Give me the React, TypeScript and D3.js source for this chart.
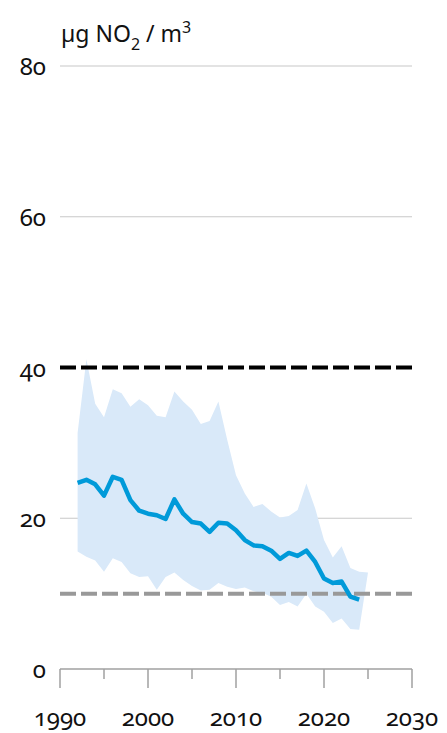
import * as d3 from "d3";

// NO2 concentration (µg/m3), yearly
const years = [1992, 1993, 1994, 1995, 1996, 1997, 1998, 1999, 2000, 2001, 2002, 2003, 2004, 2005, 2006, 2007, 2008, 2009, 2010, 2011, 2012, 2013, 2014, 2015, 2016, 2017, 2018, 2019, 2020, 2021, 2022, 2023, 2024, 2025];
const average = [24.7, 25.1, 24.5, 23.0, 25.5, 25.1, 22.4, 21.0, 20.6, 20.4, 19.9, 22.5, 20.6, 19.5, 19.3, 18.2, 19.4, 19.3, 18.4, 17.1, 16.4, 16.3, 15.7, 14.6, 15.4, 15.0, 15.7, 14.2, 12.0, 11.4, 11.6, 9.6, 9.2, null];
const upper = [31.3, 41.1, 35.2, 33.4, 37.1, 36.6, 34.8, 35.8, 35.0, 33.6, 33.4, 36.8, 35.5, 34.4, 32.5, 32.9, 35.5, 30.4, 25.7, 23.3, 21.5, 21.9, 20.9, 20.1, 20.3, 21.1, 24.6, 21.3, 17.1, 14.8, 16.3, 13.4, 12.9, 12.8];
const lower = [15.6, 14.9, 14.4, 12.9, 14.7, 14.2, 12.7, 12.2, 12.3, 10.5, 12.2, 12.8, 11.8, 11.0, 10.4, 10.5, 11.4, 10.9, 10.6, 10.8, 10.3, 10.1, 9.6, 8.5, 8.9, 8.3, 10.0, 8.3, 7.6, 6.1, 6.7, 5.3, 5.2, 12.8];

const yTicks = [0, 20, 40, 60, 80];
const gridValues = [20, 60, 80];
const euLimit = 40;
const whoLimit = 10;

const width = 447;
const height = 733;
const font = "'Noto Sans', 'Open Sans', sans-serif";

export default function App() {
    const x = d3.scaleLinear().domain([1990, 2030]).range([60, 412]);
    const y = d3.scaleLinear().domain([0, 80]).range([669, 66]);

    const rows = years.map((yr, i) => ({yr, avg: average[i], hi: upper[i], lo: lower[i]}));

    const band = d3.area<any>()
        .x(d => x(d.yr))
        .y0(d => y(d.lo))
        .y1(d => y(d.hi))(rows);

    const line = d3.line<any>()
        .defined(d => d.avg != null)
        .x(d => x(d.yr))
        .y(d => y(d.avg))(rows);

    const xTicks = x.ticks(8);

    return (
        <svg width={width} height={height}
             style={{position: "absolute", left: 0, top: 0, background: "#fff"}}
             fontFamily={font}>
            <text x={61} y={42} fontSize={23} fill="#111">
                µg NO<tspan fontSize={16} dy={8}>2</tspan>
                <tspan dy={-8}> / m</tspan>
                <tspan fontSize={16} dy={-9}>3</tspan>
            </text>

            {gridValues.map(v => (
                <line key={v} x1={x(1990)} x2={x(2030)} y1={y(v)} y2={y(v)}
                      stroke="#c8c8c8" strokeWidth={1.2}/>
            ))}

            <path d={band ?? ""} fill="#d9e9f9"/>

            <line x1={x(1990)} x2={x(2030)} y1={y(euLimit)} y2={y(euLimit)}
                  stroke="#000" strokeWidth={4} strokeDasharray="16 5"/>
            <line x1={x(1990)} x2={x(2030)} y1={y(whoLimit)} y2={y(whoLimit)}
                  stroke="#999" strokeWidth={4} strokeDasharray="16 5"/>

            <path d={line ?? ""} fill="none" stroke="#009ad9" strokeWidth={4.5}
                  strokeLinejoin="round"/>

            {yTicks.map(v => (
                <text key={v} x={46} y={y(v) + 9} textAnchor="end" fontSize={24}
                      fill="#111" style={{fontVariantNumeric: "oldstyle-nums"}}>{v}</text>
            ))}

            <line x1={x(1990)} x2={x(2030)} y1={y(0)} y2={y(0)} stroke="#a0a0a0" strokeWidth={1.5}/>
            {xTicks.map(t => (
                <line key={t} x1={x(t)} x2={x(t)} y1={y(0)} y2={y(0) + (t % 10 === 0 ? 19 : 10)}
                      stroke="#a0a0a0" strokeWidth={1.5}/>
            ))}
            {xTicks.filter(t => t % 10 === 0).map(t => (
                <text key={t} x={x(t)} y={726} textAnchor="middle" fontSize={24} fill="#111"
                      style={{fontVariantNumeric: "oldstyle-nums"}}>{t}</text>
            ))}
        </svg>
    );
}
